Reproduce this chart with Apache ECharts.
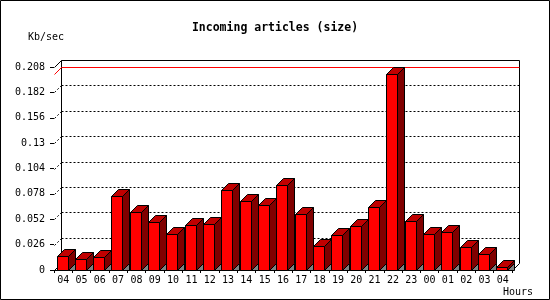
<!DOCTYPE html>
<html>
<head>
<meta charset="utf-8">
<script src="https://cdn.jsdelivr.net/npm/echarts@6/dist/echarts.min.js"></script>
<style>
html,body{margin:0;padding:0;background:#fff;}
#chart{width:550px;height:300px;}
</style>
</head>
<body>
<div id="chart"></div>
<script>
// ---- data ----
const categories = ['04','05','06','07','08','09','10','11','12','13','14','15','16','17','18','19','20','21','22','23','00','01','02','03','04'];
const values = [0.0140,0.0110,0.0130,0.0755,0.0590,0.0488,0.0366,0.0458,0.0468,0.0820,0.0704,0.0663,0.0868,0.0570,0.0243,0.0355,0.0448,0.0642,0.2005,0.0499,0.0366,0.0386,0.0232,0.0161,0.0028];
const yTickValues = [0,0.026,0.052,0.078,0.104,0.13,0.156,0.182,0.208];
const yTickLabels = ['0','0.026','0.052','0.078','0.104','0.13','0.156','0.182','0.208'];
const titleText = 'Incoming articles (size)';
const yUnit = 'Kb/sec';
const xUnit = 'Hours';

// ---- rendering ----
const DEPTH = 7;
const FONT = '"DejaVu Sans Mono", "Liberation Mono", monospace';
const maxValue = Math.max.apply(null, values);
const yMax = yTickValues[yTickValues.length - 1];
function crisp(v){ return Math.round(v) + 0.5; }

const chart = echarts.init(document.getElementById('chart'), null, {renderer:'canvas'});

function frameRender(params, api){
  const bw = api.size([1,0])[0];
  const L = crisp(api.coord([0,0])[0] - bw/2);
  const R = crisp(api.coord([categories.length-1,0])[0] + bw/2);
  const B = crisp(api.coord([0,0])[1]);
  const T = crisp(api.coord([0,yMax])[1]);
  const d = DEPTH;
  const ch = [];
  const st = {stroke:'#000', lineWidth:1, fill:null};
  yTickValues.forEach(function(t){
    const y = crisp(api.coord([0,t])[1]);
    const inner = t > 0 && t < yMax;
    if (inner) {
      ch.push({type:'line', shape:{x1:L+d, y1:y-d, x2:R+d, y2:y-d}, style:{stroke:'#000', lineWidth:1, lineDash:[2,2]}});
    }
    ch.push({type:'line', shape:{x1:L, y1:y, x2:L+d, y2:y-d}, style: inner ? {stroke:'#000', lineWidth:1, lineDash:[2,2]} : st});
  });
  ch.push({type:'line', shape:{x1:L+d, y1:T-d, x2:R+d, y2:T-d}, style:st});
  ch.push({type:'line', shape:{x1:L+d, y1:T-d, x2:L+d, y2:B-d}, style:st});
  ch.push({type:'line', shape:{x1:R+d, y1:T-d, x2:R+d, y2:B-d}, style:st});
  ch.push({type:'line', shape:{x1:R, y1:B, x2:R+d, y2:B-d}, style:st});
  return {type:'group', children:ch};
}

function maxRender(params, api){
  const bw = api.size([1,0])[0];
  const L = crisp(api.coord([0,0])[0] - bw/2);
  const R = crisp(api.coord([categories.length-1,0])[0] + bw/2);
  const y = crisp(api.coord([0, api.value(1)])[1]);
  const d = DEPTH;
  return {type:'polyline', shape:{points:[[L,y],[L+d,y-d],[R+d,y-d]]}, style:{stroke:'#ff0000', lineWidth:1, fill:null}};
}

function barRender(params, api){
  const i = api.value(0), v = api.value(1);
  const top = api.coord([i, v]);
  const base = api.coord([i, 0]);
  const bw = api.size([1,0])[0];
  const d = DEPTH;
  const fw = 11;
  const x0 = crisp(top[0] - bw/2 + 2.5);
  const x1 = x0 + fw;
  const yt = crisp(top[1]);
  const yb = crisp(base[1]);
  const edge = {stroke:'#000', lineWidth:1};
  return {type:'group', children:[
    {type:'polygon', shape:{points:[[x1,yb],[x1+d,yb-d],[x1+d,yb]]}, style:{fill:'#808080', stroke:'#000', lineWidth:1}},
    {type:'polygon', shape:{points:[[x1,yt],[x1+d,yt-d],[x1+d,yb-d],[x1,yb]]}, style:Object.assign({fill:'#800000'}, edge)},
    {type:'polygon', shape:{points:[[x0,yt],[x0+d,yt-d],[x1+d,yt-d],[x1,yt]]}, style:Object.assign({fill:'#c00000'}, edge)},
    {type:'rect', shape:{x:x0, y:yt, width:fw, height:yb-yt}, style:Object.assign({fill:'#ff0000'}, edge)}
  ]};
}

const option = {
  backgroundColor:'#ffffff',
  animation:false,
  title:{
    text: titleText, left:'center', top:17,
    textStyle:{fontFamily:FONT, fontWeight:'bold', fontSize:11.5, color:'#000'}
  },
  grid:{left:54, top:67, width:458, height:203, containLabel:false},
  xAxis:{
    type:'category', data:categories, boundaryGap:true,
    axisLine:{show:true, lineStyle:{color:'#000', width:1}},
    axisTick:{show:true, length:3, interval:0, lineStyle:{color:'#000'}},
    axisLabel:{interval:0, margin:5, color:'#000', fontFamily:FONT, fontSize:10},
    splitLine:{show:false}
  },
  yAxis:{
    type:'value', min:0, max:yMax, interval:0.026,
    axisLine:{show:false},
    axisTick:{show:true, length:4, lineStyle:{color:'#000'}},
    axisLabel:{margin:9, color:'#000', fontFamily:FONT, fontSize:10,
      formatter:function(val, idx){ return yTickLabels[idx] !== undefined ? yTickLabels[idx] : String(val); }},
    splitLine:{show:false}
  },
  graphic:[
    {type:'rect', shape:{x:0.5, y:0.5, width:549, height:299}, style:{stroke:'#000', fill:null, lineWidth:1}, z:100},
    {type:'text', left:28, top:32, style:{text:yUnit, font:'10px ' + FONT, fill:'#000'}},
    {type:'text', left:503, top:287, style:{text:xUnit, font:'10px ' + FONT, fill:'#000'}}
  ],
  series:[
    {type:'custom', renderItem:frameRender, data:[[0,0]], z:1, silent:true},
    {type:'custom', renderItem:maxRender, data:[[0,maxValue]], z:2, silent:true},
    {type:'custom', renderItem:barRender, data:values.map(function(v,i){return [i,v];}), z:3,
     encode:{x:0, y:1}}
  ]
};
chart.setOption(option);
</script>
</body>
</html>
